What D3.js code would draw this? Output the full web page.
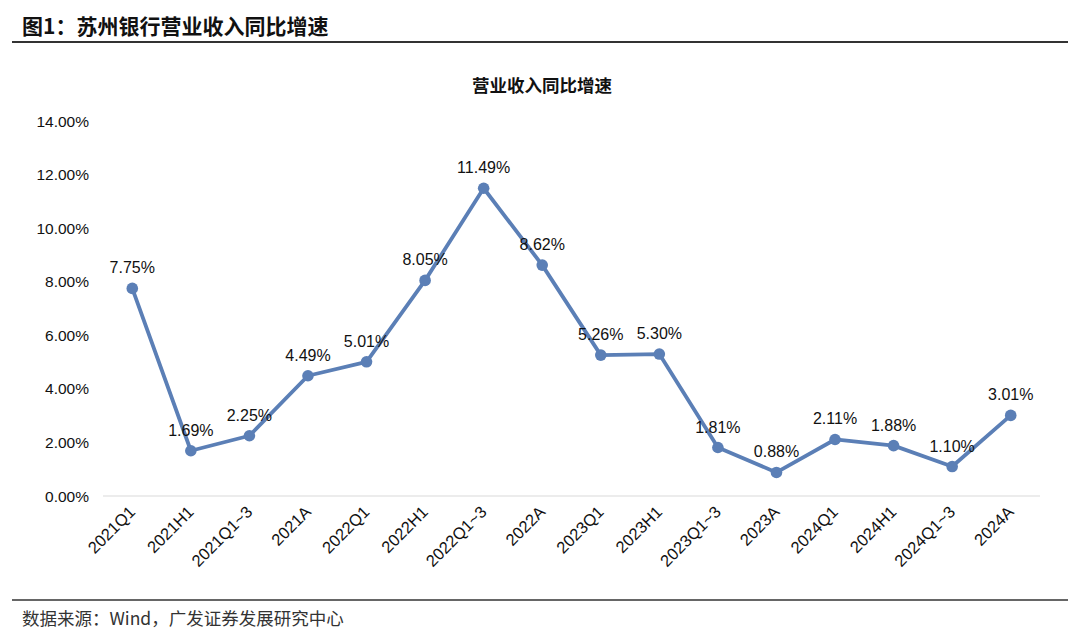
<!DOCTYPE html>
<html><head><meta charset="utf-8">
<script src="https://cdn.jsdelivr.net/npm/d3@7"></script>
<style>
body{margin:0;background:#fff;}
svg{display:block;}
text{font-family:"Liberation Sans",Arial,"Noto Sans CJK SC",sans-serif;}
.cjk{font-family:"Noto Sans CJK SC","Liberation Sans",sans-serif;}
</style></head><body>
<svg id="c" width="1080" height="631"></svg>
<script>
const categories = ["2021Q1","2021H1","2021Q1~3","2021A","2022Q1","2022H1","2022Q1~3","2022A","2023Q1","2023H1","2023Q1~3","2023A","2024Q1","2024H1","2024Q1~3","2024A"];
const growth = [7.75,1.69,2.25,4.49,5.01,8.05,11.49,8.62,5.26,5.30,1.81,0.88,2.11,1.88,1.10,3.01];
const yTicks = [0,2,4,6,8,10,12,14];

const svg = d3.select("#c");
const lineColor = "#5b7fb6";

// header
svg.append("text").attr("class","cjk").attr("x",22).attr("y",34)
  .attr("font-size",21).attr("font-weight","bold").attr("fill","#111")
  .text("图1：苏州银行营业收入同比增速");
svg.append("line").attr("x1",12).attr("x2",1068).attr("y1",42).attr("y2",42)
  .attr("stroke","#333").attr("stroke-width",1.8);

// chart title
svg.append("text").attr("class","cjk").attr("x",542).attr("y",92).attr("text-anchor","middle")
  .attr("font-size",17.5).attr("font-weight","bold").attr("fill","#111").text("营业收入同比增速");

const x = d3.scaleBand().domain(categories).range([103,1040]);
const y = d3.scaleLinear().domain([0,14]).range([496,121]);

// y axis labels
svg.append("g").selectAll("text").data(yTicks).join("text")
  .attr("x",89).attr("y",d=>y(d)).attr("dy","0.36em").attr("text-anchor","end")
  .attr("font-size",15.5).attr("fill","#111").text(d=>d.toFixed(2)+"%");

// baseline
svg.append("line").attr("x1",103).attr("x2",1040).attr("y1",y(0)).attr("y2",y(0))
  .attr("stroke","#d9d9d9").attr("stroke-width",1.2);

// x labels
svg.append("g").selectAll("text").data(categories).join("text")
  .attr("transform",d=>`translate(${x(d)+x.bandwidth()/2+4},${y(0)+17}) rotate(-45)`)
  .attr("text-anchor","end").attr("font-size",16.5).attr("fill","#111").text(d=>d);

const cx = (d,i)=>x(categories[i])+x.bandwidth()/2;
const line = d3.line().x((d,i)=>cx(d,i)).y(d=>y(d));
svg.append("path").datum(growth).attr("d",line).attr("fill","none")
  .attr("stroke",lineColor).attr("stroke-width",3.8).attr("stroke-linejoin","round");
svg.append("g").selectAll("circle").data(growth).join("circle")
  .attr("cx",cx).attr("cy",d=>y(d)).attr("r",5.8).attr("fill",lineColor);
svg.append("g").selectAll("text").data(growth).join("text")
  .attr("x",cx).attr("y",d=>y(d)-15).attr("text-anchor","middle")
  .attr("font-size",16).attr("fill","#111").text(d=>d.toFixed(2)+"%");

// footer
svg.append("line").attr("x1",12).attr("x2",1068).attr("y1",600).attr("y2",600)
  .attr("stroke","#333").attr("stroke-width",1.5);
svg.append("text").attr("class","cjk").attr("x",22).attr("y",625)
  .attr("font-size",17.5).attr("fill","#333").text("数据来源：Wind，广发证券发展研究中心");
</script></body></html>
